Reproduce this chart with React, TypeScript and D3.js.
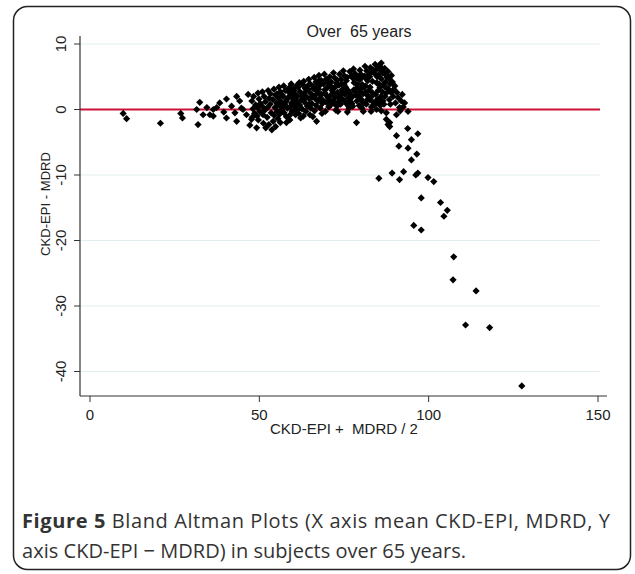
import React from "react";
import * as d3 from "d3";

// Bland-Altman data: [mean (CKD-EPI + MDRD)/2, difference CKD-EPI - MDRD]
const lowRange: [number, number][] = [
  [9.8, -0.6], [10.8, -1.4], [20.8, -2.1], [26.8, -0.6], [27.3, -1.3],
  [31.5, 0], [32.4, 1.1], [31.9, -2.3], [33.4, -0.8], [35.4, -0.8], [36.4, -1.0],
  [37.4, 0.3], [38.3, 1.0], [40.3, 1.6], [40.3, -1.3], [41.8, 0.5], [43.3, 2.0],
  [43.3, -1.8], [44.2, 1.3], [45.2, 0], [46.7, 2.3], [46.2, -0.8], [47.2, -2.4],
  [42.8, -0.5], [36.4, 0], [47.7, -1.5], [44.7, 0.2], [39.5, -0.4], [34.5, 0.3],
];

const coreCluster: [number, number][] = [
  [48.3, 2.0], [47.8, 1.3], [48.9, 0.7], [48.1, 0.1], [48.6, -0.6], [47.9, -1.2], [49.6, 2.5], [49.9, 1.6],
  [50.3, 0.9], [49.4, 0.3], [50.1, -0.3], [49.3, -1.0], [49.2, -2.8], [49.7, -1.6],
  [50.9, 2.7], [51.4, 2.0], [51.8, 1.2], [50.8, 0.5], [51.6, -0.1], [51.1, -0.8], [52.3, -1.2], [51.2, -2.1],
  [52.6, 2.9], [52.9, 1.7], [53.2, 0.8], [52.4, 0.3], [53.5, -0.5], [53.7, -3.1], [52.8, -2.3], [53.3, 2.4], [54.1, -1.8],
  [54.3, 3.1], [54.8, 2.2], [54.0, 1.5], [55.1, 1.0], [54.6, 0.3], [55.3, -0.3], [54.4, -0.9], [55.8, 3.4],
  [56.2, 2.7], [55.6, 1.8], [56.4, 1.2], [55.9, 0.6], [56.6, -0.1], [56.0, -0.7], [55.5, -1.4], [56.8, 2.2],
  [57.2, 3.6], [57.7, 2.9], [57.0, 2.0], [58.1, 1.5], [57.5, 0.8], [58.3, 0.2], [57.3, -0.5], [58.0, -1.1],
  [58.0, -2.0], [58.8, 3.3], [59.2, 2.5], [58.6, 1.9], [59.5, 1.0], [59.0, 0.4], [59.7, -0.3], [58.9, -0.9], [59.4, 3.9],
  [60.1, 3.2], [60.6, 2.3], [60.0, 1.6], [61.0, 1.2], [60.4, 0.5], [61.3, -0.1], [60.7, -0.8], [61.8, 4.1],
  [61.5, 3.4], [62.0, 2.7], [61.2, 2.0], [62.4, 1.5], [61.9, 0.7], [62.6, 0.1], [61.6, -0.6], [62.2, -1.3], [62.8, 3.8],
  [63.1, 4.3], [63.6, 3.2], [63.0, 2.4], [64.0, 1.9], [63.4, 1.1], [64.2, 0.5], [63.7, -0.3], [64.6, 4.6],
  [65.0, 3.9], [64.4, 3.0], [65.3, 2.4], [64.8, 1.6], [65.5, 0.9], [64.9, -0.8], [65.8, -1.1], [65.2, 0.2],
  [66.2, 4.9], [66.7, 4.2], [66.0, 3.5], [67.0, 2.8], [66.4, 2.1], [67.3, 1.3], [66.8, 0.6], [66.9, -1.8],
  [66.3, -0.2], [67.7, 4.5], [68.1, 3.8], [67.5, 3.1], [68.4, 2.3], [67.9, 1.7], [68.6, 0.9], [68.0, 0.2], [67.6, 5.2],
  [69.2, 5.4], [69.7, 4.6], [69.0, 3.9], [70.0, 3.3], [69.4, 2.5], [70.3, 1.8], [69.8, 1.1], [70.5, 0.4],
  [69.5, -0.3], [70.8, 5.0], [71.2, 4.2], [70.6, 3.6], [71.5, 2.9], [70.9, 2.1], [71.7, 1.4], [71.1, 0.7], [71.9, 5.6],
  [72.3, 4.8], [72.8, 4.0], [72.1, 3.3], [73.1, 2.6], [72.5, 1.9], [73.4, 1.2], [72.9, 0.5], [73.2, -0.3],
  [72.6, -0.1], [73.7, 5.4], [74.1, 4.6], [73.5, 3.7], [74.4, 3.0], [73.9, 2.2], [74.6, 1.6], [74.0, 0.8], [74.8, 5.9],
  [75.2, 5.1], [75.7, 4.4], [75.0, 3.8], [76.0, 3.0], [75.4, 2.3], [76.3, 1.7], [75.8, 0.9], [76.5, 0.2],
  [76.7, 5.8], [77.2, 5.2], [76.6, 2.6], [77.4, 1.9], [76.9, 1.2], [77.6, 0.5], [77.8, 6.2],
  [78.2, 5.5], [78.7, 4.8], [78.0, 4.1], [79.0, 3.4], [78.4, 2.7], [79.3, 2.0], [78.8, 1.3], [79.5, 0.6],
  [78.7, -2.0], [79.7, 6.0], [80.1, 5.3], [79.6, 4.5], [80.4, 3.8], [79.9, 3.1], [80.6, 2.4], [80.0, 1.6], [80.8, 0.9], [80.3, 0.2],
  [81.2, 6.6], [81.7, 5.9], [81.0, 5.1], [82.0, 4.4], [81.4, 3.6], [82.3, 2.9], [81.8, 2.2], [82.5, 1.5],
  [81.6, 0.8], [82.8, 6.4], [83.2, 5.7], [82.6, 5.0], [83.4, 4.3], [83.0, 1.9], [83.6, 1.1], [83.1, 0.4],
  [84.2, 6.9], [84.7, 6.2], [84.0, 5.5], [84.6, 4.1], [84.3, 2.3], [85.0, 1.6], [84.4, 0.9], [84.6, 0.0],
  [85.4, 6.7], [85.8, 6.0], [85.2, 5.3], [86.0, 4.7], [85.6, 3.4], [86.3, 2.7], [85.9, 2.0], [86.5, 1.3],
  [85.7, 0.6], [86.0, 7.1], [86.5, 5.6],
  [87.0, 6.3], [87.2, 4.2], [87.5, 2.5], [87.0, 3.5], [87.1, 2.0], [87.5, -0.5], [87.5, -1.5], [88.5, 4.6],
  [88.6, 3.9], [88.2, 3.0], [88.4, 1.5], [88.7, 0.8], [88.5, -2.0],
  [89.5, 2.0], [90.0, 3.6], [90.2, 1.0], [90.5, -0.8], [91.4, 0.3], [91.9, 1.3], [92.9, 1.0], [93.9, -0.3],
  [92.2, 2.3], [89.0, 5.2],
];

const clusterFill: [number, number][] = [
  [55.2, 2.4], [56.9, 0.3], [57.8, 1.2], [58.4, 2.8], [59.8, 1.9], [60.3, 2.9], [60.9, 0.1], [61.1, 3.7],
  [62.7, 2.1], [63.3, 1.6], [63.9, 2.8], [64.3, 3.6], [64.7, 0.8], [65.6, 1.9], [65.9, 3.2], [66.6, 1.6],
  [67.2, 3.6], [67.8, 2.4], [68.3, 4.4], [68.8, 1.4], [69.3, 3.0], [69.9, 2.1], [70.2, 4.2], [70.7, 1.3],
  [71.4, 3.4], [71.8, 2.5], [72.2, 0.9], [72.7, 3.6], [73.0, 4.5], [73.6, 1.7], [74.3, 3.9], [74.7, 2.6],
  [75.3, 1.2], [75.5, 3.4], [75.9, 4.9], [76.2, 0.6], [77.0, 2.3], [77.3, 0.9], [77.6, 4.8], [77.9, 3.0],
  [78.5, 2.2], [78.9, 3.8], [79.2, 5.1], [79.8, 2.7], [80.2, 4.9], [80.5, 1.2], [80.9, 3.4], [81.3, 2.6],
  [81.5, 4.7], [81.9, 1.5], [82.2, 5.3], [82.7, 3.4], [83.3, 2.6], [83.7, 6.0], [83.9, 0.7], [84.5, 1.3],
  [84.8, 5.0], [85.1, 2.9], [85.3, 3.9], [85.9, 1.1], [86.2, 6.3], [86.7, 3.9], [87.3, 5.3], [87.8, 4.9],
  [87.9, 3.2], [88.0, 5.8], [88.9, 2.6], [89.3, 4.2], [89.7, 3.1], [90.6, 2.6], [91.0, 1.8], [91.6, -0.2],
  [92.5, 0.4], [86.8, 0.8], [86.0, -0.2], [83.0, -0.3], [80.7, -0.3], [76.0, -0.4], [68.5, -0.6],
  [63.0, -1.0], [59.0, -1.6], [56.2, -2.0], [54.8, -2.6], [51.9, -2.8],
];

const declineTail: [number, number][] = [
  [88, -2.3], [88.5, -2.6], [93.8, -2.9], [96.8, -3.7], [90.5, -4.0], [94.9, -4.6],
  [91.2, -5.6], [93.9, -5.9], [96.5, -6.8], [94.9, -7.7], [85.3, -10.5], [89.2, -9.7],
  [91.4, -10.7], [92.6, -9.5], [96.2, -10.0], [96.8, -9.7], [99.8, -10.4], [101.5, -11.0],
  [97.8, -13.5], [103.5, -14.2], [105.5, -15.4], [104.5, -16.3], [95.6, -17.7], [97.8, -18.4],
  [107.4, -22.5], [107.2, -26.0], [114, -27.7], [110.9, -32.9], [118, -33.3], [127.5, -42.2],
];

const xTicks = [0, 50, 100, 150];
const yTicks = [10, 0, -10, -20, -30, -40];
const chartTitle = "Over  65 years";
const xTitle = "CKD-EPI +  MDRD / 2";
const yTitle = "CKD-EPI - MDRD";

const W = 635;
const H = 574;

export default function App() {
  const x = d3.scaleLinear().domain([0, 150]).range([90, 598]);
  const y = d3.scaleLinear().domain([-40, 10]).range([371.5, 44]);
  const diamond = d3.symbol().type(d3.symbolSquare).size(26)() as string;
  const allPoints = [...lowRange, ...coreCluster, ...clusterFill, ...declineTail];
  const axisFont = "'Liberation Sans', Arial, sans-serif";
  const capFont = "'Open Sans', 'Noto Sans', sans-serif";
  const plotLeft = 80;
  const plotRight = 600;
  const axisBottom = 396;
  const pre = { whiteSpace: "pre" as const };

  return (
    <svg width={W} height={H} style={{ position: "absolute", left: 0, top: 0, background: "#fff" }}>
      <rect x={13.5} y={6.5} width={617} height={563} rx={14} ry={14} fill="#fff" stroke="#222" strokeWidth={1.5} />
      {yTicks.map((t) => (
        <line key={"g" + t} x1={plotLeft} x2={plotRight} y1={y(t)} y2={y(t)} stroke="#e3edf0" strokeWidth={1} />
      ))}
      <line x1={plotLeft} x2={plotRight} y1={y(0)} y2={y(0)} stroke="#cc1236" strokeWidth={2} />
      {allPoints.map((p, i) => (
        <path key={i} d={diamond} transform={`translate(${x(p[0])},${y(p[1])}) rotate(45)`} fill="#000" />
      ))}
      <line x1={plotLeft} x2={plotLeft} y1={36} y2={axisBottom} stroke="#333" strokeWidth={1.2} />
      <line x1={plotLeft} x2={607} y1={axisBottom} y2={axisBottom} stroke="#333" strokeWidth={1.2} />
      {yTicks.map((t) => (
        <g key={"yt" + t}>
          <line x1={plotLeft - 6} x2={plotLeft} y1={y(t)} y2={y(t)} stroke="#333" strokeWidth={1} />
          <text transform={`translate(66,${y(t)}) rotate(-90)`} textAnchor="middle" fontFamily={axisFont} fontSize={15} fill="#222">
            {t}
          </text>
        </g>
      ))}
      {xTicks.map((t) => (
        <g key={"xt" + t}>
          <line x1={x(t)} x2={x(t)} y1={axisBottom} y2={axisBottom + 6} stroke="#333" strokeWidth={1} />
          <text x={x(t)} y={420} textAnchor="middle" fontFamily={axisFont} fontSize={15} fill="#222">
            {t}
          </text>
        </g>
      ))}
      <text x={344} y={434} textAnchor="middle" fontFamily={axisFont} fontSize={15} fill="#222" style={pre}>
        {xTitle}
      </text>
      <text transform="translate(50,204) rotate(-90)" textAnchor="middle" fontFamily={axisFont} fontSize={13.5}
        fill="#222" textLength={104} lengthAdjust="spacingAndGlyphs">
        {yTitle}
      </text>
      <text x={359} y={37} textAnchor="middle" fontFamily={axisFont} fontSize={16} fill="#222" style={pre}>
        {chartTitle}
      </text>
      <text x={22} y={528} fontFamily={capFont} fontSize={20} fill="#333" textLength={588} lengthAdjust="spacing">
        <tspan fontWeight="bold">Figure 5</tspan>
        <tspan> Bland Altman Plots (X axis mean CKD-EPI, MDRD, Y</tspan>
      </text>
      <text x={22} y={558} fontFamily={capFont} fontSize={20} fill="#333" textLength={444} lengthAdjust="spacing">
        axis CKD-EPI − MDRD) in subjects over 65 years.
      </text>
    </svg>
  );
}
